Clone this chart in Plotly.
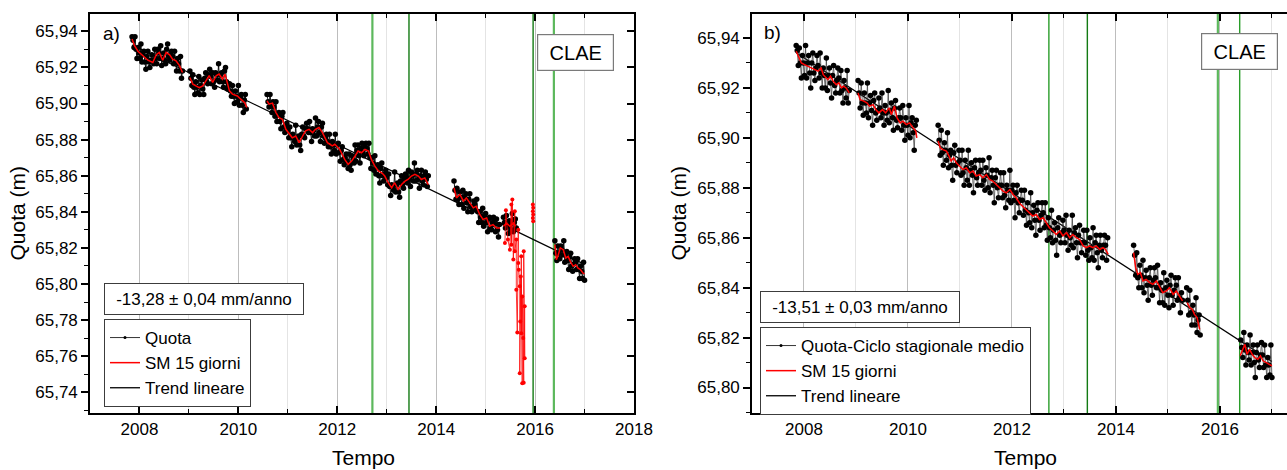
import plotly.graph_objects as go

FONT = "Liberation Sans, Arial, sans-serif"
STEP = 0.02  # sampling interval of the plotted Quota points (years)

# ---------------- Panel a) : Quota ----------------
a_quota_start = [2007.85, 2009.02, 2010.58, 2014.36, 2015.36, 2016.40]
a_quota_1 = [65.937, 65.935, 65.931, 65.937, 65.930, 65.925, 65.931, 65.928, 65.925, 65.933,
             65.923, 65.927, 65.929, 65.923, 65.919, 65.926, 65.929, 65.923, 65.920, 65.924,
             65.927, 65.924, 65.922, 65.930, 65.925, 65.922, 65.930, 65.928, 65.925, 65.932,
             65.921, 65.925, 65.928, 65.924, 65.922, 65.930, 65.933, 65.926, 65.924, 65.927,
             65.929, 65.926, 65.922, 65.929, 65.923, 65.918, 65.925, 65.922, 65.918, 65.926,
             65.914, 65.918]
a_quota_2 = [65.918, 65.914, 65.910, 65.916, 65.909, 65.905, 65.912, 65.909, 65.906, 65.915,
             65.905, 65.910, 65.913, 65.908, 65.905, 65.914, 65.917, 65.912, 65.911, 65.916,
             65.919, 65.915, 65.911, 65.917, 65.912, 65.909, 65.917, 65.916, 65.913, 65.922,
             65.912, 65.916, 65.917, 65.912, 65.909, 65.918, 65.920, 65.912, 65.908, 65.910,
             65.911, 65.907, 65.904, 65.910, 65.904, 65.900, 65.907, 65.904, 65.901, 65.910,
             65.899, 65.903, 65.905, 65.899, 65.895, 65.902, 65.905, 65.897]
a_quota_3 = [65.905, 65.901, 65.898, 65.905, 65.899, 65.895, 65.901, 65.898, 65.893, 65.901,
             65.890, 65.894, 65.895, 65.890, 65.886, 65.893, 65.895, 65.887, 65.884, 65.887,
             65.889, 65.885, 65.881, 65.887, 65.881, 65.876, 65.883, 65.881, 65.879, 65.888,
             65.877, 65.881, 65.882, 65.877, 65.874, 65.883, 65.887, 65.882, 65.881, 65.886,
             65.889, 65.886, 65.884, 65.890, 65.884, 65.879, 65.886, 65.885, 65.882, 65.892,
             65.882, 65.887, 65.890, 65.884, 65.879, 65.887, 65.889, 65.882, 65.878, 65.881,
             65.883, 65.879, 65.876, 65.883, 65.876, 65.872, 65.879, 65.877, 65.874, 65.883,
             65.872, 65.877, 65.878, 65.873, 65.868, 65.874, 65.876, 65.869, 65.866, 65.870,
             65.872, 65.868, 65.864, 65.872, 65.866, 65.863, 65.871, 65.869, 65.867, 65.877,
             65.868, 65.874, 65.877, 65.871, 65.867, 65.875, 65.878, 65.873, 65.871, 65.876,
             65.878, 65.875, 65.872, 65.878, 65.870, 65.864, 65.870, 65.867, 65.863, 65.871,
             65.861, 65.865, 65.866, 65.860, 65.856, 65.864, 65.867, 65.860, 65.857, 65.861,
             65.863, 65.859, 65.855, 65.861, 65.854, 65.849, 65.855, 65.854, 65.852, 65.862,
             65.851, 65.855, 65.856, 65.851, 65.848, 65.857, 65.860, 65.855, 65.853, 65.858,
             65.861, 65.859, 65.856, 65.863, 65.858, 65.854, 65.862, 65.860, 65.857, 65.867,
             65.857, 65.861, 65.863, 65.858, 65.853, 65.860, 65.863, 65.857, 65.855, 65.860,
             65.862, 65.858, 65.854, 65.860]
a_quota_4 = [65.857, 65.852, 65.847, 65.853, 65.847, 65.844, 65.851, 65.848, 65.844, 65.852,
             65.842, 65.848, 65.850, 65.845, 65.840, 65.847, 65.850, 65.843, 65.840, 65.843,
             65.846, 65.844, 65.841, 65.847, 65.840, 65.834, 65.840, 65.837, 65.834, 65.842,
             65.832, 65.837, 65.839, 65.834, 65.829, 65.836, 65.837, 65.831, 65.830, 65.834,
             65.837, 65.833, 65.829, 65.836, 65.830, 65.826, 65.833]
a_quota_5 = [65.837, 65.834, 65.831, 65.838, 65.832, 65.828, 65.835, 65.833, 65.830, 65.839,
             65.829, 65.834, 65.836, 65.831]
a_quota_6 = [65.824, 65.817, 65.813, 65.821, 65.817, 65.814, 65.821, 65.819, 65.816, 65.824,
             65.812, 65.816, 65.818, 65.813, 65.808, 65.815, 65.817, 65.810, 65.807, 65.811,
             65.814, 65.812, 65.808, 65.814, 65.808, 65.803, 65.810, 65.807, 65.803, 65.812,
             65.802]

# Panel a) : SM 15 giorni (None = data gap)
a_sm_t = [2007.85, 2007.90, 2007.97, 2008.07, 2008.17, 2008.27, 2008.34, 2008.40, 2008.47, 2008.54,
          2008.61, 2008.67, 2008.74, 2008.81, 2008.87, None,
          2009.02, 2009.08, 2009.14, 2009.21, 2009.28, 2009.35, 2009.41, 2009.48, 2009.55, 2009.61,
          2009.68, 2009.73, 2009.82, 2009.88, 2009.98, 2010.05, 2010.13, 2010.17, None,
          2010.58, 2010.62, 2010.69, 2010.76, 2010.82, 2010.89, 2010.96, 2011.03, 2011.09, 2011.16,
          2011.23, 2011.30, 2011.36, 2011.43, 2011.50, 2011.56, 2011.63, 2011.70, 2011.80, 2011.90,
          2011.95, 2012.05, 2012.15, 2012.22, 2012.29, 2012.36, 2012.42, 2012.49, 2012.56, 2012.63,
          2012.69, 2012.76, 2012.83, 2012.90, 2012.96, 2013.03, 2013.10, 2013.16, 2013.23, 2013.30,
          2013.37, 2013.43, 2013.50, 2013.57, 2013.64, 2013.70, 2013.77, 2013.84, None,
          2014.36, 2014.41, 2014.48, 2014.55, 2014.61, 2014.68, 2014.75, 2014.81, 2014.88, 2014.95,
          2015.02, 2015.08, 2015.15, 2015.22, 2015.29, None,
          2015.36, 2015.42, 2015.49, 2015.56, 2015.61, None,
          2016.40, 2016.43, 2016.46, 2016.51, 2016.57, 2016.62, 2016.67, 2016.71, 2016.77, 2016.82,
          2016.87, 2016.92, 2016.97, 2017.00]
a_sm_v = [65.9357, 65.932, 65.929, 65.9265, 65.924, 65.9227, 65.927, 65.9283, 65.924, 65.9283,
          65.927, 65.9246, 65.9237, 65.921, 65.9172, None,
          65.9144, 65.9107, 65.9098, 65.9088, 65.9098, 65.9126, 65.9154, 65.9117, 65.9154, 65.9163,
          65.9135, 65.9163, 65.907, 65.9052, 65.9042, 65.9024, 65.9005, 65.8978, None,
          65.9015, 65.8996, 65.9002, 65.895, 65.8922, 65.8913, 65.8857, 65.8829, 65.881, 65.882,
          65.8783, 65.882, 65.8848, 65.8857, 65.8839, 65.8857, 65.8867, 65.8839, 65.8783, 65.8765,
          65.8774, 65.8746, 65.869, 65.8663, 65.8681, 65.8709, 65.8737, 65.8727, 65.8746, 65.8737,
          65.869, 65.8653, 65.8626, 65.8616, 65.8598, 65.8561, 65.8533, 65.8561, 65.8524, 65.8551,
          65.857, 65.8579, 65.8598, 65.8607, 65.8598, 65.8579, 65.8588, 65.8551, None,
          65.8533, 65.8477, 65.8496, 65.8459, 65.8477, 65.845, 65.8422, 65.8431, 65.8385, 65.8357,
          65.8366, 65.832, 65.8329, 65.831, 65.831, None,
          65.832, 65.8338, 65.832, 65.8338, 65.832, None,
          65.8218, 65.8135, 65.8153, 65.82, 65.819, 65.8144, 65.8153, 65.8126, 65.8098, 65.8107,
          65.8088, 65.8079, 65.806, 65.8057]

# Panel a) : anomalous values (red)
a_out_t = [2015.39, 2015.41, 2015.45, 2015.49, 2015.52, 2015.52, 2015.54, 2015.56, 2015.59, 2015.59,
           2015.62, 2015.62, 2015.64, 2015.66, 2015.66, 2015.67, 2015.69, 2015.69, 2015.70, 2015.71,
           2015.72, 2015.72, 2015.74, 2015.74, 2015.76, 2015.77, 2015.77, 2015.79, 2015.79, None,
           2015.955, 2015.962, 2015.955, 2015.962, 2015.955, 2015.962]
a_out_v = [65.8227, 65.8409, 65.8246, 65.8190, 65.8440, 65.8218, 65.8468, 65.8135, 65.8403, 65.8181,
           65.8246, 65.7968, 65.7731, 65.8301, 65.8116, 65.8079, 65.7987, 65.7505, 65.7792, 65.8042,
           65.7727, 65.8153, 65.7450, 65.7931, 65.7700, 65.7453, 65.8181, 65.7588, 65.7876, None,
           65.8440, 65.8422, 65.8403, 65.8385, 65.8366, 65.8348]

# Panel a) : linear trend (-13.28 mm/anno)
a_trend_t = [2007.85, 2017.00]
a_trend_v = [65.9324, 65.8109]

# ---------------- Panel b) : Quota - Ciclo stagionale medio ----------------
b_quota_start = [2007.85, 2009.04, 2010.58, 2014.34, 2015.36, 2016.40]
b_quota_1 = [65.937, 65.935, 65.929, 65.936, 65.930, 65.924, 65.933, 65.930, 65.925, 65.937,
             65.924, 65.930, 65.933, 65.926, 65.920, 65.930, 65.934, 65.926, 65.923, 65.928,
             65.933, 65.929, 65.924, 65.934, 65.926, 65.920, 65.928, 65.925, 65.920, 65.932,
             65.919, 65.925, 65.928, 65.922, 65.916, 65.925, 65.929, 65.921, 65.918, 65.923,
             65.928, 65.924, 65.918, 65.927, 65.919, 65.914, 65.923, 65.920, 65.916, 65.927,
             65.914, 65.919]
b_quota_2 = [65.923, 65.918, 65.912, 65.922, 65.914, 65.909, 65.918, 65.914, 65.910, 65.922,
             65.908, 65.914, 65.917, 65.911, 65.905, 65.915, 65.918, 65.910, 65.907, 65.911,
             65.916, 65.912, 65.908, 65.918, 65.910, 65.905, 65.913, 65.910, 65.907, 65.919,
             65.906, 65.911, 65.914, 65.908, 65.903, 65.912, 65.915, 65.907, 65.904, 65.908,
             65.912, 65.908, 65.903, 65.913, 65.905, 65.899, 65.908, 65.905, 65.901, 65.913,
             65.900, 65.906, 65.908, 65.902, 65.895, 65.905, 65.907]
b_quota_3 = [65.905, 65.899, 65.893, 65.903, 65.894, 65.889, 65.898, 65.895, 65.891, 65.902,
             65.888, 65.893, 65.895, 65.889, 65.883, 65.894, 65.897, 65.889, 65.886, 65.890,
             65.895, 65.891, 65.885, 65.895, 65.886, 65.881, 65.891, 65.888, 65.883, 65.895,
             65.881, 65.887, 65.890, 65.885, 65.878, 65.888, 65.891, 65.884, 65.881, 65.886,
             65.891, 65.887, 65.881, 65.891, 65.883, 65.879, 65.888, 65.885, 65.880, 65.892,
             65.878, 65.884, 65.887, 65.881, 65.874, 65.884, 65.887, 65.880, 65.876, 65.881,
             65.886, 65.881, 65.876, 65.886, 65.877, 65.872, 65.881, 65.879, 65.875, 65.887,
             65.874, 65.879, 65.881, 65.875, 65.868, 65.878, 65.881, 65.874, 65.870, 65.875,
             65.879, 65.875, 65.869, 65.879, 65.871, 65.865, 65.874, 65.870, 65.866, 65.878,
             65.864, 65.870, 65.873, 65.867, 65.861, 65.871, 65.874, 65.867, 65.863, 65.869,
             65.874, 65.870, 65.864, 65.874, 65.865, 65.859, 65.868, 65.864, 65.860, 65.871,
             65.858, 65.863, 65.866, 65.859, 65.853, 65.864, 65.868, 65.861, 65.858, 65.862,
             65.867, 65.863, 65.858, 65.869, 65.861, 65.855, 65.863, 65.860, 65.857, 65.869,
             65.856, 65.862, 65.864, 65.858, 65.852, 65.861, 65.865, 65.858, 65.854, 65.858,
             65.863, 65.858, 65.853, 65.863, 65.855, 65.851, 65.860, 65.856, 65.852, 65.864,
             65.851, 65.858, 65.861, 65.854, 65.848, 65.857, 65.861, 65.855, 65.852, 65.857,
             65.861, 65.857, 65.851, 65.860]
b_quota_4 = [65.857, 65.853, 65.845, 65.854, 65.844, 65.840, 65.849, 65.845, 65.840, 65.851,
             65.838, 65.844, 65.847, 65.841, 65.835, 65.844, 65.848, 65.841, 65.837, 65.843,
             65.848, 65.844, 65.840, 65.849, 65.840, 65.834, 65.842, 65.839, 65.834, 65.846,
             65.833, 65.840, 65.843, 65.837, 65.832, 65.841, 65.845, 65.837, 65.833, 65.839,
             65.844, 65.841, 65.835, 65.844, 65.836, 65.830, 65.838, 65.835]
b_quota_5 = [65.840, 65.835, 65.829, 65.839, 65.830, 65.825, 65.833, 65.829, 65.825, 65.836,
             65.822, 65.827, 65.829, 65.821]
b_quota_6 = [65.819, 65.816, 65.812, 65.822, 65.815, 65.809, 65.817, 65.814, 65.811, 65.821,
             65.809, 65.814, 65.817, 65.810, 65.804, 65.814, 65.817, 65.811, 65.808, 65.813,
             65.818, 65.813, 65.808, 65.817, 65.809, 65.804, 65.812, 65.809, 65.805, 65.817,
             65.804]

b_sm_t = [2007.85, 2007.90, 2007.95, 2008.01, 2008.08, 2008.14, 2008.21, 2008.27, 2008.33, 2008.37,
          2008.42, 2008.46, 2008.51, 2008.56, 2008.62, 2008.67, 2008.72, 2008.76, 2008.81, 2008.87, None,
          2009.04, 2009.08, 2009.15, 2009.21, 2009.26, 2009.33, 2009.38, 2009.44, 2009.51, 2009.57,
          2009.64, 2009.68, 2009.74, 2009.79, 2009.85, 2009.90, 2009.97, 2010.03, 2010.10, 2010.15,
          2010.17, None,
          2010.58, 2010.62, 2010.67, 2010.74, 2010.79, 2010.83, 2010.88, 2010.93, 2010.99, 2011.06,
          2011.12, 2011.19, 2011.25, 2011.31, 2011.38, 2011.44, 2011.51, 2011.57, 2011.63, 2011.70,
          2011.76, 2011.83, 2011.89, 2011.96, 2012.02, 2012.08, 2012.15, 2012.24, 2012.34, 2012.40,
          2012.47, 2012.53, 2012.60, 2012.66, 2012.72, 2012.79, 2012.85, 2012.92, 2012.98, 2013.05,
          2013.11, 2013.17, 2013.24, 2013.30, 2013.37, 2013.43, 2013.49, 2013.56, 2013.62, 2013.69,
          2013.75, 2013.80, 2013.85, None,
          2014.34, 2014.38, 2014.42, 2014.47, 2014.52, 2014.58, 2014.65, 2014.71, 2014.78, 2014.84,
          2014.90, 2014.97, 2015.03, 2015.10, 2015.16, 2015.22, 2015.28, None,
          2015.37, 2015.42, 2015.47, 2015.51, 2015.56, 2015.61, None,
          2016.39, 2016.43, 2016.48, 2016.52, 2016.57, 2016.62, 2016.67, 2016.73, 2016.78, 2016.83,
          2016.89, 2016.96, 2017.00]
b_sm_v = [65.9347, 65.932, 65.930, 65.9293, 65.9287, 65.928, 65.9273, 65.9267, 65.928, 65.9253,
          65.924, 65.9233, 65.9247, 65.9227, 65.9213, 65.922, 65.920, 65.9207, 65.920, 65.918, None,
          65.918, 65.9153, 65.9147, 65.914, 65.9127, 65.9133, 65.9113, 65.910, 65.9113, 65.910,
          65.912, 65.9093, 65.9127, 65.908, 65.906, 65.9067, 65.9053, 65.906, 65.904, 65.9027,
          65.900, None,
          65.8987, 65.896, 65.8953, 65.8947, 65.8927, 65.8907, 65.892, 65.890, 65.8887, 65.8873,
          65.888, 65.886, 65.8867, 65.8847, 65.8853, 65.884, 65.8853, 65.8833, 65.8827, 65.8813,
          65.880, 65.8787, 65.878, 65.8793, 65.8773, 65.876, 65.8737, 65.872, 65.870, 65.8687,
          65.8693, 65.8673, 65.868, 65.866, 65.864, 65.8627, 65.8613, 65.8627, 65.8607, 65.862,
          65.860, 65.8613, 65.860, 65.8593, 65.8567, 65.856, 65.8567, 65.856, 65.8567, 65.8553,
          65.856, 65.8553, 65.8533, None,
          65.854, 65.848, 65.8453, 65.846, 65.8427, 65.8433, 65.842, 65.8413, 65.8427, 65.840,
          65.838, 65.8387, 65.840, 65.8373, 65.8387, 65.8367, 65.8347, None,
          65.834, 65.832, 65.8313, 65.8293, 65.828, 65.8233, None,
          65.8127, 65.8147, 65.8173, 65.8133, 65.8153, 65.8133, 65.812, 65.8113, 65.8127, 65.8107,
          65.810, 65.8093, 65.8087]

b_trend_t = [2007.85, 2017.00]
b_trend_v = [65.9341, 65.8104]

# Events (green vertical lines)
event_years = [2012.71, 2013.45, 2015.96, 2016.38]
rate_a = "-13,28 \u00b1 0,04 mm/anno"
rate_b = "-13,51 \u00b1 0,03 mm/anno"

assert len(a_sm_t) == len(a_sm_v) and len(b_sm_t) == len(b_sm_v) and len(a_out_t) == len(a_out_v)


def build(starts, segs):
    xs, ys = [], []
    for s, vals in zip(starts, segs):
        xs += [s + i * STEP for i in range(len(vals))] + [None]
        ys += list(vals) + [None]
    return xs, ys


a_qx, a_qy = build(a_quota_start, [a_quota_1, a_quota_2, a_quota_3, a_quota_4, a_quota_5, a_quota_6])
b_qx, b_qy = build(b_quota_start, [b_quota_1, b_quota_2, b_quota_3, b_quota_4, b_quota_5, b_quota_6])

fig = go.Figure()

# ---- panel a traces
fig.add_trace(go.Scatter(x=a_trend_t, y=a_trend_v, mode="lines", name="Trend lineare",
                         line=dict(color="black", width=1.3), xaxis="x", yaxis="y",
                         legend="legend", legendrank=3))
fig.add_trace(go.Scatter(x=a_qx, y=a_qy, mode="lines+markers", name="Quota", showlegend=False,
                         line=dict(color="black", width=0.9), marker=dict(color="black", size=5.5),
                         xaxis="x", yaxis="y", connectgaps=False))
fig.add_trace(go.Scatter(x=[None], y=[None], mode="lines+markers", name="Quota",
                         line=dict(color="black", width=0.8), marker=dict(color="black", size=3),
                         xaxis="x", yaxis="y", legend="legend", legendrank=1))
fig.add_trace(go.Scatter(x=a_out_t, y=a_out_v, mode="lines+markers", showlegend=False,
                         line=dict(color="red", width=0.8), marker=dict(color="red", size=4),
                         xaxis="x", yaxis="y", connectgaps=False))
fig.add_trace(go.Scatter(x=a_sm_t, y=a_sm_v, mode="lines", name="SM 15 giorni",
                         line=dict(color="#ff0000", width=1.5), xaxis="x", yaxis="y",
                         legend="legend", legendrank=2, connectgaps=False))

# ---- panel b traces
fig.add_trace(go.Scatter(x=b_trend_t, y=b_trend_v, mode="lines", name="Trend lineare",
                         line=dict(color="black", width=1.3), xaxis="x2", yaxis="y2",
                         legend="legend2", legendrank=3))
fig.add_trace(go.Scatter(x=b_qx, y=b_qy, mode="lines+markers", name="Quota-Ciclo stagionale medio",
                         showlegend=False,
                         line=dict(color="#333333", width=0.7), marker=dict(color="black", size=5.5),
                         xaxis="x2", yaxis="y2", connectgaps=False))
fig.add_trace(go.Scatter(x=[None], y=[None], mode="lines+markers", name="Quota-Ciclo stagionale medio",
                         line=dict(color="black", width=0.8), marker=dict(color="black", size=3),
                         xaxis="x2", yaxis="y2", legend="legend2", legendrank=1))
fig.add_trace(go.Scatter(x=b_sm_t, y=b_sm_v, mode="lines", name="SM 15 giorni",
                         line=dict(color="#ff0000", width=1.5), xaxis="x2", yaxis="y2",
                         legend="legend2", legendrank=2, connectgaps=False))

# ---- green event lines
green_a = [("#5cb85c", 2.2), ("#137a13", 1.4), ("#137a13", 1.4), ("#5cb85c", 2.2)]
green_b = [("#2a9d2a", 1.4), ("#137a13", 1.4), ("#5cb85c", 2.2), ("#2a9d2a", 1.4)]
shapes = []
for yr, (c, w) in zip(event_years, green_a):
    shapes.append(dict(type="line", xref="x", yref="y domain", x0=yr, x1=yr, y0=0, y1=1,
                       line=dict(color=c, width=w), layer="below"))
for yr, (c, w) in zip(event_years, green_b):
    shapes.append(dict(type="line", xref="x2", yref="y2 domain", x0=yr, x1=yr, y0=0, y1=1,
                       line=dict(color=c, width=w), layer="below"))

tickfont = dict(family=FONT, size=17, color="black")


def xaxis_cfg(dom, rng, anchor):
    return dict(domain=dom, range=rng, anchor=anchor, tick0=2008, dtick=2, tickformat="d",
                ticks="inside", ticklen=7, tickwidth=1.5, tickcolor="black",
                showline=True, linecolor="black", linewidth=1.6, mirror="ticks",
                showgrid=True, gridcolor="#bdbdbd", gridwidth=1.2, zeroline=False,
                tickfont=tickfont, automargin=False,
                minor=dict(dtick=1, tick0=2007, ticks="inside", ticklen=4, tickwidth=1.2,
                           tickcolor="black", showgrid=True, gridcolor="#e4e4e4", gridwidth=1))


def yaxis_cfg(rng, anchor, mirror):
    return dict(domain=[0, 1], range=rng, anchor=anchor, tick0=65.74, dtick=0.02,
                tickformat=".2f", ticks="outside", ticklen=7, tickwidth=1.5, tickcolor="black",
                showline=True, linecolor="black", linewidth=1.6, mirror=mirror,
                showgrid=False, zeroline=False, tickfont=tickfont, automargin=False,
                minor=dict(dtick=0.01, ticks="outside", ticklen=4, tickwidth=1.2, tickcolor="black"))


W, H = 1287, 470
ML, MR, MT, MB = 90, 0, 14, 57
PW = W - ML - MR
PH = H - MT - MB


def px(x):
    return (x - ML) / PW


def py(y):
    return 1 - (y - MT) / PH


ya_range = [65.7285, 65.9496]
yb_range = [65.7898, 65.9496]

layout = dict(
    width=W, height=H, margin=dict(l=ML, r=MR, t=MT, b=MB, autoexpand=False),
    paper_bgcolor="white", plot_bgcolor="white", separators=", ",
    font=dict(family=FONT, size=17, color="black"),
    xaxis=xaxis_cfg([0, px(634)], [2007, 2018], "y"),
    yaxis=yaxis_cfg(ya_range, "x", True),
    yaxis3=dict(overlaying="y", anchor="x", side="right", range=ya_range, tick0=65.74, dtick=0.02,
                ticks="inside", ticklen=7, tickwidth=1.5, tickcolor="black", showticklabels=False,
                showgrid=False, zeroline=False, showline=False, automargin=False),
    xaxis2=xaxis_cfg([px(752), 1], [2007, 2017.29], "y2"),
    yaxis2=yaxis_cfg(yb_range, "x2", False),
    legend=dict(x=px(104), y=py(319), xanchor="left", yanchor="top", bgcolor="white",
                bordercolor="#3c3c3c", borderwidth=1, font=dict(family=FONT, size=17),
                tracegroupgap=0, traceorder="normal"),
    legend2=dict(x=px(760), y=py(327), xanchor="left", yanchor="top", bgcolor="white",
                 bordercolor="#3c3c3c", borderwidth=1, font=dict(family=FONT, size=17),
                 tracegroupgap=0, traceorder="normal"),
    shapes=shapes,
)
fig.update_layout(**layout)

# invisible trace so the right-side tick axis of panel a is drawn
fig.add_trace(go.Scatter(x=[2007.5], y=[65.80], mode="markers", marker=dict(opacity=0),
                         xaxis="x", yaxis="y3", showlegend=False, hoverinfo="skip"))

box = dict(bordercolor="#7a7a7a", borderwidth=1.2, bgcolor="white")
ann = [
    dict(text="a)", x=px(101), y=py(33), xref="paper", yref="paper", xanchor="left",
         yanchor="middle", showarrow=False, font=dict(size=19)),
    dict(text="b)", x=px(762), y=py(32), xref="paper", yref="paper", xanchor="left",
         yanchor="middle", showarrow=False, font=dict(size=19)),
    dict(text="CLAE", x=px(537), y=py(34), xref="paper", yref="paper", xanchor="left",
         yanchor="top", showarrow=False, font=dict(size=20), width=67, height=27, borderpad=4, **box),
    dict(text="CLAE", x=px(1201), y=py(33), xref="paper", yref="paper", xanchor="left",
         yanchor="top", showarrow=False, font=dict(size=20), width=67, height=27, borderpad=4, **box),
    dict(text=rate_a, x=px(104), y=py(283), xref="paper", yref="paper", xanchor="left",
         yanchor="top", showarrow=False, font=dict(size=17), width=190, height=22, borderpad=4,
         bordercolor="#3c3c3c", borderwidth=1, bgcolor="white"),
    dict(text=rate_b, x=px(760), y=py(291), xref="paper", yref="paper", xanchor="left",
         yanchor="top", showarrow=False, font=dict(size=17), width=190, height=22, borderpad=4,
         bordercolor="#3c3c3c", borderwidth=1, bgcolor="white"),
    dict(text="Quota (m)", x=px(17), y=0.5, xref="paper", yref="paper", xanchor="center",
         yanchor="middle", textangle=-90, showarrow=False, font=dict(size=21)),
    dict(text="Quota (m)", x=px(678), y=0.5, xref="paper", yref="paper", xanchor="center",
         yanchor="middle", textangle=-90, showarrow=False, font=dict(size=21)),
    dict(text="Tempo", x=px(363), y=py(444), xref="paper", yref="paper", xanchor="center",
         yanchor="top", showarrow=False, font=dict(size=21)),
    dict(text="Tempo", x=px(1025), y=py(444), xref="paper", yref="paper", xanchor="center",
         yanchor="top", showarrow=False, font=dict(size=21)),
]
fig.update_layout(annotations=ann)

fig.write_html("out.html")
